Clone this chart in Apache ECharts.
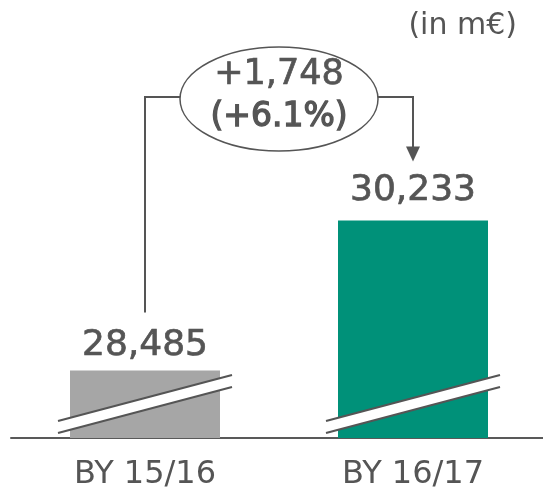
<!DOCTYPE html>
<html>
<head>
<meta charset="utf-8">
<script src="https://cdn.jsdelivr.net/npm/echarts@6/dist/echarts.min.js"></script>
<style>
  html, body { margin: 0; padding: 0; background: #fff; }
  #chart { width: 543px; height: 490px; }
</style>
</head>
<body>
<div id="chart"></div>
<script>
// Revenue per business year, in million euro
const categories = ['BY 15/16', 'BY 16/17'];
const values = [28485, 30233];
const barColors = ['#a6a6a6', '#009179'];
const unitLabel = '(in m€)';

// Visible value window of the (broken) y axis
const axisMin = 27700;
const axisMax = 32570;

const FONT = '"DejaVu Sans", sans-serif';
const INK = '#555555';

const fmt = n => n.toLocaleString('en-US');
const delta = values[1] - values[0];
const deltaText = (delta >= 0 ? '+' : '') + fmt(delta);
const pctText = '(' + (delta >= 0 ? '+' : '') + (delta / values[0] * 100).toFixed(1) + '%)';

const chart = echarts.init(document.getElementById('chart'), null, { renderer: 'canvas' });

const BAR_W = 150;

chart.setOption({
  animation: false,
  grid: { left: 11, top: 20, width: 536, bottom: 52, containLabel: false, outerBoundsMode: 'none' },
  xAxis: {
    type: 'category',
    data: categories,
    axisLine: { lineStyle: { color: '#595959', width: 2 } },
    axisTick: { show: false },
    axisLabel: { color: INK, fontSize: 32, fontFamily: FONT, margin: 21 }
  },
  yAxis: {
    type: 'value', min: axisMin, max: axisMax,
    show: false, splitLine: { show: false }
  },
  series: [{
    type: 'bar',
    barWidth: BAR_W,
    data: values.map((v, i) => ({
      value: v,
      itemStyle: { color: barColors[i] },
      label: { distance: i === 0 ? 7 : 12 }
    })),
    label: {
      show: true, position: 'top',
      color: INK, fontSize: 36, fontFamily: FONT,
      textBorderColor: INK, textBorderWidth: 0.7,
      formatter: p => fmt(p.value)
    }
  }]
});

function buildGraphics() {
  const p0 = chart.convertToPixel({ gridIndex: 0 }, [0, values[0]]);
  const p1 = chart.convertToPixel({ gridIndex: 0 }, [1, values[1]]);
  const base = chart.convertToPixel({ gridIndex: 0 }, [0, axisMin])[1];
  const els = [];

  // Axis-break slashes across each bar
  [p0[0], p1[0]].forEach(cx => {
    const half = BAR_W / 2 + 12;
    const xl = cx - half, xr = cx + half;
    const ulY = base - 17, urY = base - 63;
    const llY = base - 5, lrY = base - 51;
    els.push({
      type: 'polygon', z: 10,
      shape: { points: [[xl, ulY], [xr, urY], [xr, lrY], [xl, llY]] },
      style: { fill: '#ffffff', stroke: null }
    });
    els.push({ type: 'line', z: 11, shape: { x1: xl, y1: ulY, x2: xr, y2: urY },
      style: { stroke: INK, lineWidth: 2 } });
    els.push({ type: 'line', z: 11, shape: { x1: xl, y1: llY, x2: xr, y2: lrY },
      style: { stroke: INK, lineWidth: 2 } });
  });

  // Change bubble with connectors from one bar to the next
  const ecx = (p0[0] + p1[0]) / 2, ecy = 99, rx = 99, ry = 52;
  const linkY = 97;
  els.push({
    type: 'polyline', z: 5,
    shape: { points: [[p0[0], p0[1] - 58], [p0[0], linkY], [ecx - rx, linkY]] },
    style: { stroke: INK, lineWidth: 2, fill: null }
  });
  const tipY = p1[1] - 59;
  els.push({
    type: 'polyline', z: 5,
    shape: { points: [[ecx + rx, linkY], [p1[0], linkY], [p1[0], tipY - 14]] },
    style: { stroke: INK, lineWidth: 2, fill: null }
  });
  els.push({
    type: 'polygon', z: 5,
    shape: { points: [[p1[0] - 7, tipY - 15], [p1[0] + 7, tipY - 15], [p1[0], tipY]] },
    style: { fill: INK }
  });
  els.push({
    type: 'ellipse', z: 6,
    shape: { cx: ecx, cy: ecy, rx: rx, ry: ry },
    style: { fill: '#ffffff', stroke: INK, lineWidth: 1.5 }
  });
  els.push({
    type: 'text', z: 7, x: ecx, y: 75,
    style: { text: deltaText, fill: INK, font: '35px ' + FONT, align: 'center', verticalAlign: 'middle',
      stroke: INK, lineWidth: 0.7 }
  });
  els.push({
    type: 'text', z: 7, x: ecx, y: 117,
    style: { text: pctText, fill: INK, font: '33px ' + FONT, align: 'center', verticalAlign: 'middle',
      stroke: INK, lineWidth: 1.3 }
  });

  // Unit note, top right
  els.push({
    type: 'text', z: 7, x: 517, y: 26,
    style: { text: unitLabel, fill: INK, font: '30px ' + FONT, align: 'right', verticalAlign: 'middle' }
  });

  chart.setOption({ graphic: { elements: els } });
}

buildGraphics();
</script>
</body>
</html>
